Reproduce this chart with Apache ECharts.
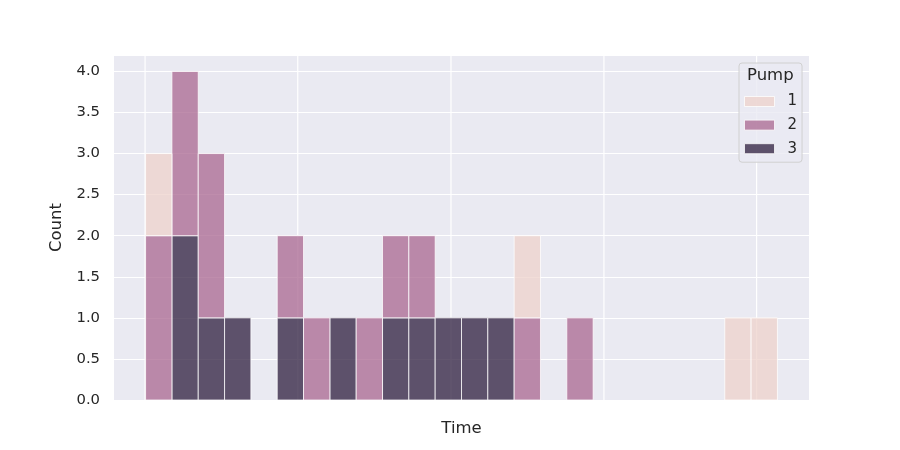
<!DOCTYPE html>
<html>
<head>
<meta charset="utf-8">
<script src="https://cdn.jsdelivr.net/npm/echarts@6/dist/echarts.min.js"></script>
<style>html,body{margin:0;padding:0;background:#fff}#chart{width:900px;height:450px}</style>
</head>
<body>
<div id="chart"></div>
<script>
// Histogram bins (index = bin number, equal width), stacked counts per pump
const binIndex = [0,1,2,3,4,5,6,7,8,9,10,11,12,13,14,15,16,17,18,19,20,21,22,23];
const pump3 = [0,2,1,1,0,1,0,1,0,1,1,1,1,1,0,0,0,0,0,0,0,0,0,0];
const pump2 = [2,2,2,0,0,1,1,0,1,1,1,0,0,0,1,0,1,0,0,0,0,0,0,0];
const pump1 = [1,0,0,0,0,0,0,0,0,0,0,0,0,0,1,0,0,0,0,0,0,0,1,1];
const pumpNames = ['1','2','3'];
// time-axis tick positions (in bin units), ticks carry no labels
const timeTicks = [-0.02, 5.78, 11.6, 17.41, 23.21];
const yTicks = ['0.0','0.5','1.0','1.5','2.0','2.5','3.0','3.5','4.0'];

const colors = ['#edd1cb', '#a96790', '#2d1e3e'];
const nBins = binIndex.length;
const margin = nBins * 0.05;

// bottom-to-top stacking: pump 3, pump 2, pump 1
function barSeries(name, counts, below, color) {
  return {
    name: name,
    type: 'custom',
    itemStyle: {color: color, opacity: 0.75},
    encode: {x: 0, y: 2},
    data: binIndex.map((b, k) => {
      let base = 0;
      below.forEach(arr => { base += arr[k]; });
      return [b, base, base + counts[k]];
    }),
    renderItem: function (params, api) {
      const i = api.value(0), b = api.value(1), t = api.value(2);
      if (t <= b) return null;
      const p0 = api.coord([i, t]);
      const p1 = api.coord([i + 1, b]);
      return {
        type: 'rect',
        shape: {x: p0[0], y: p0[1], width: p1[0] - p0[0], height: p1[1] - p0[1]},
        style: {fill: color, stroke: '#ffffff', lineWidth: 1, opacity: 0.75}
      };
    }
  };
}

const chart = echarts.init(document.getElementById('chart'), null, {renderer: 'canvas'});
chart.setOption({
  animation: false,
  backgroundColor: '#ffffff',
  grid: {left: 114, right: 91, top: 55, bottom: 50, show: true, backgroundColor: '#eaeaf2', borderWidth: 0},
  xAxis: {
    type: 'value', min: -margin, max: nBins + margin,
    name: 'Time', nameLocation: 'middle', nameGap: 20,
    nameTextStyle: {fontFamily: 'DejaVu Sans', fontSize: 16.5, color: '#262626'},
    axisLine: {show: false}, axisTick: {show: false}, axisLabel: {show: false},
    splitLine: {show: false}
  },
  yAxis: {
    type: 'value', min: 0, max: 4.2, interval: 0.5,
    name: 'Count', nameLocation: 'middle', nameGap: 38,
    nameTextStyle: {fontFamily: 'DejaVu Sans', fontSize: 16.5, color: '#262626'},
    axisLine: {show: false}, axisTick: {show: false},
    axisLabel: {
      fontFamily: 'DejaVu Sans', fontSize: 14.8, color: '#262626', margin: 14,
      showMaxLabel: false,
      formatter: function (v) { const k = Math.round(v / 0.5); return (Math.abs(v - k * 0.5) < 1e-6 && yTicks[k]) ? yTicks[k] : ''; }
    },
    splitLine: {show: true, lineStyle: {color: '#ffffff', width: 1.2}}
  },
  legend: {
    orient: 'vertical', left: 739, top: 63,
    padding: [31, 5, 6, 5],
    itemWidth: 30, itemHeight: 10, itemGap: 8.6,
    backgroundColor: 'rgba(234,234,242,0.8)', borderColor: '#d0d0d0', borderWidth: 1, borderRadius: 3,
    textStyle: {fontFamily: 'DejaVu Sans', fontSize: 15, color: '#262626', padding: [0, 0, 0, 8]},
    data: pumpNames.map((n, k) => ({name: n, icon: 'rect', itemStyle: {color: colors[k], opacity: 0.75, borderColor: '#ffffff', borderWidth: 1}}))
  },
  title: {
    text: 'Pump', left: 747, top: 67, padding: 0,
    textStyle: {fontFamily: 'DejaVu Sans', fontSize: 16.5, fontWeight: 'normal', color: '#262626'}
  },
  series: [
    {
      name: 'timegrid', type: 'custom', silent: true,
      encode: {x: 0},
      data: timeTicks.map(t => [t]),
      renderItem: function (params, api) {
        const x = api.value(0);
        const a = api.coord([x, 0]);
        const b = api.coord([x, 4.2]);
        return {type: 'line', shape: {x1: a[0], y1: a[1], x2: b[0], y2: b[1]}, style: {stroke: '#ffffff', lineWidth: 1.2}};
      }
    },
    barSeries(pumpNames[2], pump3, [], colors[2]),
    barSeries(pumpNames[1], pump2, [pump3], colors[1]),
    barSeries(pumpNames[0], pump1, [pump3, pump2], colors[0])
  ]
});
</script>
</body>
</html>
